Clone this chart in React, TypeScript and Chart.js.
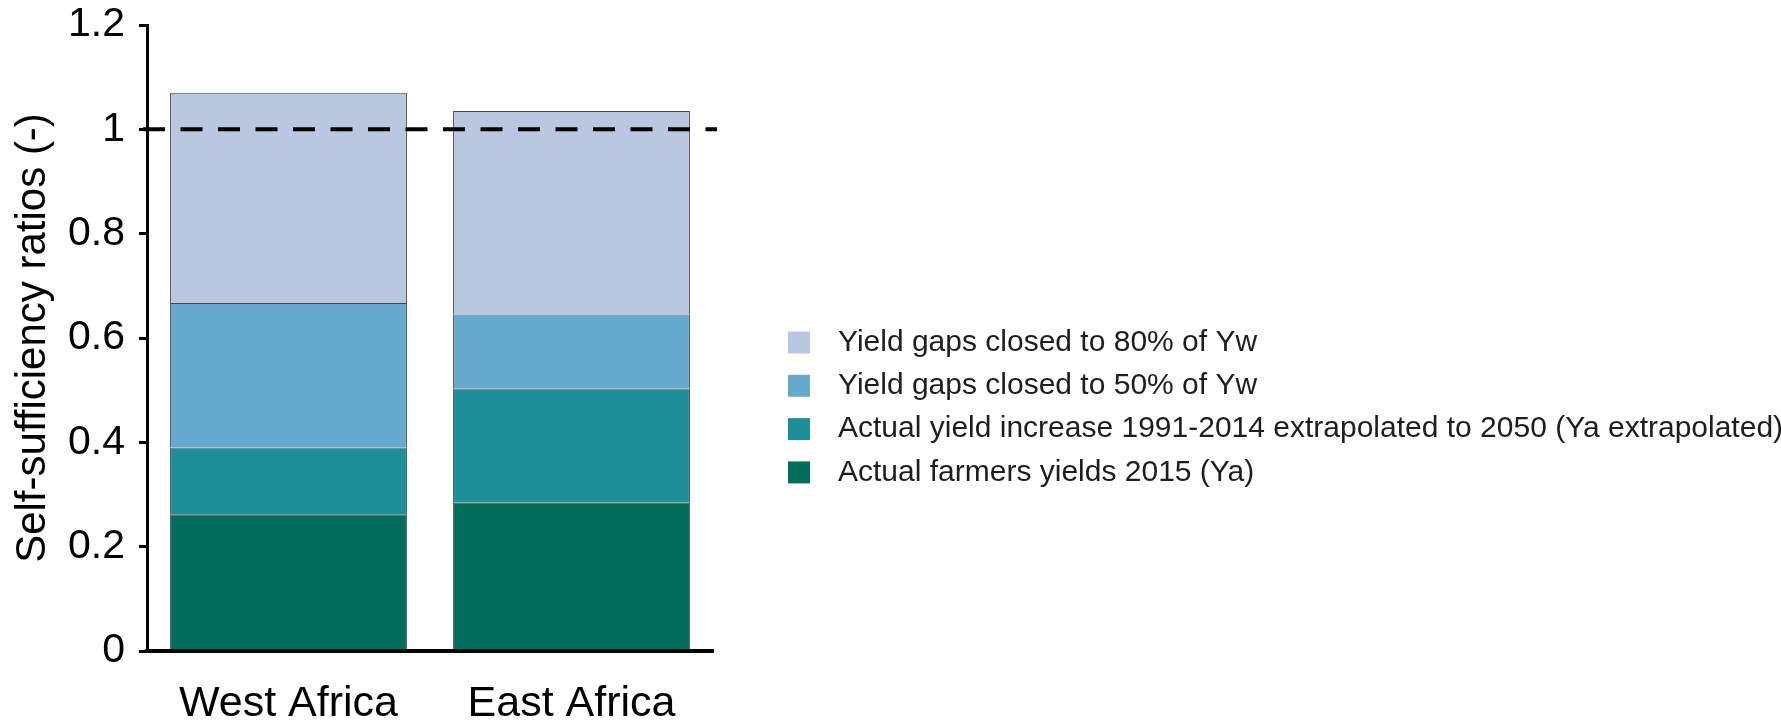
import React, { useEffect, useRef } from "react";
import { Chart, registerables } from "chart.js";

Chart.register(...registerables);

const categories = ["West Africa", "East Africa"];
const farmersYields2015 = [0.262, 0.284];
const extrapolatedIncrease = [0.128, 0.219];
const gapClosed50 = [0.277, 0.142];
const gapClosed80 = [0.403, 0.39];
const yTickValues = [0, 0.2, 0.4, 0.6, 0.8, 1, 1.2];
const referenceLineValue = 1;
const seriesLabels = [
  "Actual farmers yields 2015 (Ya)",
  "Actual yield increase 1991-2014 extrapolated to 2050 (Ya extrapolated)",
  "Yield gaps closed to 50% of Yw",
  "Yield gaps closed to 80% of Yw",
];
const seriesColors = ["#036d5b", "#1e8f98", "#66a9cf", "#b9c7e0"];

const FONT = "'Liberation Sans', Arial, Helvetica, sans-serif";

const refLinePlugin = {
  id: "refLine",
  afterDatasetsDraw(chart: any) {
    const { ctx, chartArea, scales } = chart;
    const y = scales.y.getPixelForValue(referenceLineValue);
    ctx.save();
    ctx.strokeStyle = "#000";
    ctx.lineWidth = 4;
    ctx.setLineDash([22, 15.5]);
    ctx.beginPath();
    ctx.moveTo(chartArea.left - 4, y);
    ctx.lineTo(chartArea.right + 4, y);
    ctx.stroke();
    ctx.restore();
  },
};

const sideLegendPlugin = {
  id: "sideLegend",
  afterDraw(chart: any) {
    const { ctx } = chart;
    const ds = chart.data.datasets.slice().reverse();
    const x0 = 788;
    const y0 = 342.5;
    const gap = 43.3;
    const box = 22;
    ctx.save();
    ctx.font = `30px ${FONT}`;
    ctx.textBaseline = "middle";
    ctx.textAlign = "left";
    ds.forEach((d: any, i: number) => {
      const cy = y0 + i * gap;
      ctx.fillStyle = d.backgroundColor;
      ctx.fillRect(x0, cy - box / 2, box, box);
      ctx.fillStyle = "#1e1e1e";
      ctx.fillText(d.label, x0 + 50, cy);
    });
    ctx.restore();
  },
};

export default function App() {
  const ref = useRef<HTMLCanvasElement | null>(null);

  useEffect(() => {
    if (!ref.current) return;
    const seriesValues = [farmersYields2015, extrapolatedIncrease, gapClosed50, gapClosed80];
    const chart = new Chart(ref.current, {
      type: "bar",
      data: {
        labels: categories,
        datasets: seriesValues.map((vals, i) => ({
          label: seriesLabels[i],
          data: vals,
          backgroundColor: seriesColors[i],
          borderColor: "rgba(25,25,25,0.8)",
          borderWidth: 1,
          barPercentage: 0.837,
          categoryPercentage: 1,
        })),
      },
      options: {
        responsive: false,
        animation: false,
        devicePixelRatio: 1,
        layout: { padding: { left: 0, top: 25, right: 1068, bottom: 0 } },
        plugins: {
          legend: { display: false },
          tooltip: { enabled: false },
        },
        scales: {
          x: {
            stacked: true,
            grid: { display: false, drawTicks: false },
            border: { display: true, color: "#000", width: 4 },
            ticks: {
              color: "#000",
              font: { size: 43, family: FONT },
              padding: 27,
            },
            afterFit: (s: any) => {
              s.height = 70;
            },
          },
          y: {
            stacked: true,
            min: 0,
            max: 1.2,
            grid: {
              drawOnChartArea: false,
              drawTicks: true,
              tickLength: 8,
              tickColor: "#000",
              tickWidth: 3,
              lineWidth: 3,
              color: "#000",
            },
            border: { display: true, color: "#000", width: 3 },
            afterBuildTicks: (s: any) => {
              s.ticks = yTickValues.map((v) => ({ value: v }));
            },
            ticks: {
              color: "#000",
              font: { size: 41, family: FONT },
              padding: 14,
              callback: (v: any) => String(v),
            },
            title: {
              display: true,
              text: "Self-sufficiency ratios (-)",
              color: "#000",
              font: { size: 42, family: FONT },
              padding: { top: 8, bottom: 0 },
            },
            afterFit: (s: any) => {
              s.width = 147;
              s.paddingTop = 0;
              s.paddingBottom = 0;
            },
          },
        },
      },
      plugins: [refLinePlugin, sideLegendPlugin],
    });
    return () => chart.destroy();
  }, []);

  return (
    <div style={{ position: "absolute", left: 0, top: 0, width: 1781, height: 721, background: "#fff" }}>
      <canvas ref={ref} width={1781} height={721} style={{ display: "block" }} />
    </div>
  );
}
